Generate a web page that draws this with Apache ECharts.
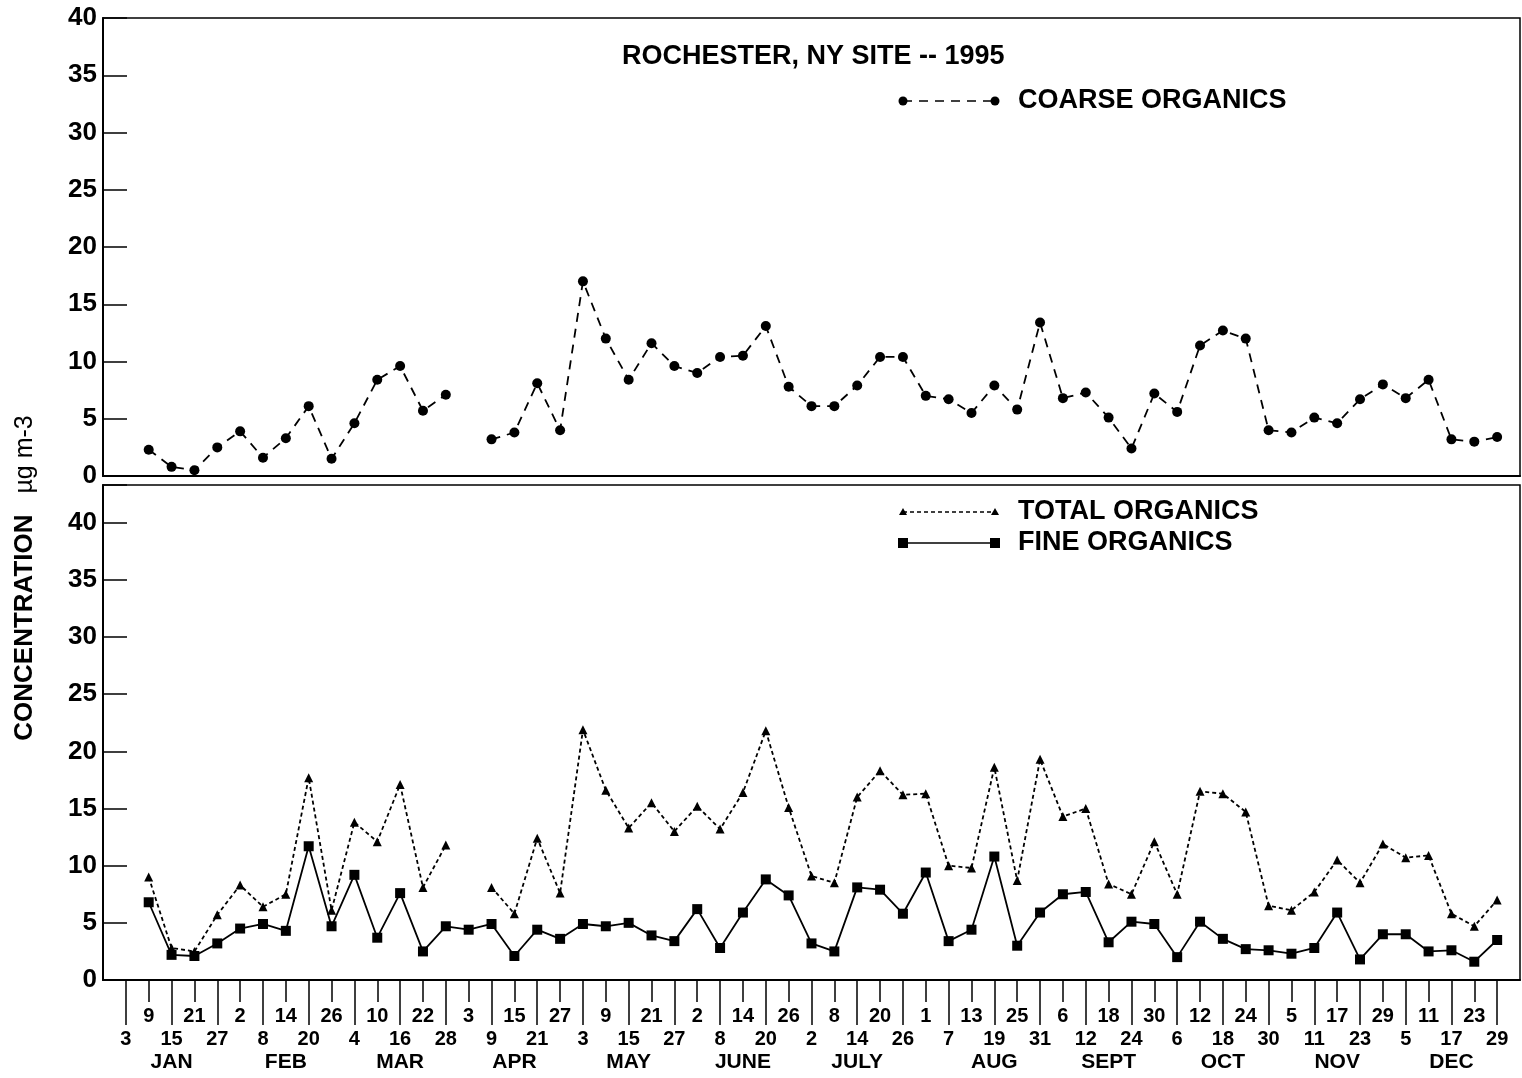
<!DOCTYPE html>
<html>
<head>
<meta charset="utf-8">
<title>Rochester, NY site -- 1995</title>
<script src="https://cdn.jsdelivr.net/npm/echarts@6.0.0/dist/echarts.min.js"></script>
<style>
  html, body { margin: 0; padding: 0; background: #fff; }
  #chart { width: 1522px; height: 1078px; }
</style>
</head>
<body>
<div id="chart"></div>
<script>
// sample dates, one every 6 days (Jan 3 .. Dec 29, 1995)
const sampleDays = [3, 9, 15, 21, 27, 2, 8, 14, 20, 26, 4, 10, 16, 22, 28, 3, 9, 15, 21, 27,
  3, 9, 15, 21, 27, 2, 8, 14, 20, 26, 2, 8, 14, 20, 26, 1, 7, 13, 19, 25, 31,
  6, 12, 18, 24, 30, 6, 12, 18, 24, 30, 5, 11, 17, 23, 29, 5, 11, 17, 23, 29];
const monthNames = ["JAN", "FEB", "MAR", "APR", "MAY", "JUNE", "JULY", "AUG", "SEPT", "OCT", "NOV", "DEC"];
const monthCounts = [5, 5, 5, 5, 5, 5, 5, 6, 5, 5, 5, 5];

// concentrations, ug m-3 (null = no sample)
const coarseOrganics = [null, 2.3, 0.8, 0.5, 2.5, 3.9, 1.6, 3.3, 6.1, 1.5, 4.6, 8.4, 9.6, 5.7, 7.1, null,
  3.2, 3.8, 8.1, 4.0, 17.0, 12.0, 8.4, 11.6, 9.6, 9.0, 10.4, 10.5, 13.1, 7.8, 6.1, 6.1, 7.9, 10.4, 10.4,
  7.0, 6.7, 5.5, 7.9, 5.8, 13.4, 6.8, 7.3, 5.1, 2.4, 7.2, 5.6, 11.4, 12.7, 12.0, 4.0, 3.8, 5.1, 4.6,
  6.7, 8.0, 6.8, 8.4, 3.2, 3.0, 3.4];
const totalOrganics = [null, 9.0, 2.8, 2.5, 5.7, 8.3, 6.4, 7.5, 17.7, 6.1, 13.8, 12.1, 17.1, 8.1, 11.8, null,
  8.1, 5.8, 12.4, 7.6, 21.9, 16.6, 13.3, 15.5, 13.0, 15.2, 13.2, 16.4, 21.8, 15.1, 9.1, 8.5, 16.0, 18.3, 16.2,
  16.3, 10.0, 9.8, 18.6, 8.7, 19.3, 14.3, 15.0, 8.4, 7.5, 12.1, 7.5, 16.5, 16.3, 14.7, 6.5, 6.1, 7.7, 10.5,
  8.5, 11.9, 10.7, 10.9, 5.8, 4.7, 7.0];
const fineOrganics = [null, 6.8, 2.2, 2.1, 3.2, 4.5, 4.9, 4.3, 11.7, 4.7, 9.2, 3.7, 7.6, 2.5, 4.7, 4.4,
  4.9, 2.1, 4.4, 3.6, 4.9, 4.7, 5.0, 3.9, 3.4, 6.2, 2.8, 5.9, 8.8, 7.4, 3.2, 2.5, 8.1, 7.9, 5.8,
  9.4, 3.4, 4.4, 10.8, 3.0, 5.9, 7.5, 7.7, 3.3, 5.1, 4.9, 2.0, 5.1, 3.6, 2.7, 2.6, 2.3, 2.8, 5.9,
  1.8, 4.0, 4.0, 2.5, 2.6, 1.6, 3.5];

const FONT = '"Liberation Sans", Arial, sans-serif';
const N = sampleDays.length;

// one empty slot on each side so the first/last sample sit inside the frame
const dayCats = [""].concat(sampleDays.map(String), [""]);
const monthCats = dayCats.map(() => "");
let start = 0;
monthCounts.forEach((c, m) => {
  monthCats[Math.ceil((start + start + c - 1) / 2) + 1] = monthNames[m];
  start += c;
});
const pad = arr => [null].concat(arr);

const isSample = i => i >= 1 && i <= N;
const evenSample = i => isSample(i) && (i - 1) % 2 === 0;
const oddSample = i => isSample(i) && (i - 1) % 2 === 1;

const black = "#000";
const tickFont = { color: black, fontFamily: FONT, fontWeight: "bold" };

function valueAxis(gridIndex, max) {
  return {
    type: "value",
    gridIndex: gridIndex,
    min: 0,
    max: max,
    interval: 5,
    axisLine: { show: true, lineStyle: { color: black, width: 2 } },
    axisTick: { show: true, inside: true, length: 24, lineStyle: { color: black, width: 1.5 } },
    splitLine: { show: false },
    axisLabel: Object.assign({ fontSize: 26, margin: 6, formatter: v => (v % 5 === 0 ? String(v) : "") }, tickFont)
  };
}

function dayAxis(showIdx, tickLen, margin) {
  return {
    type: "category",
    gridIndex: 1,
    position: "bottom",
    boundaryGap: false,
    data: dayCats,
    axisLine: { show: true, lineStyle: { color: black, width: 2 } },
    axisTick: { show: true, interval: showIdx, length: tickLen, lineStyle: { color: black, width: 1.5 } },
    axisLabel: Object.assign({ interval: showIdx, fontSize: 20, margin: margin }, tickFont),
    splitLine: { show: false }
  };
}

const chart = echarts.init(document.getElementById("chart"));

chart.setOption({
  animation: false,
  backgroundColor: "#fff",
  title: {
    text: "ROCHESTER, NY SITE -- 1995",
    left: 617,
    top: 38,
    textStyle: { fontSize: 27, fontWeight: "bold", fontFamily: FONT, color: black }
  },
  grid: [
    { left: 103, right: 2, top: 18, height: 458, show: true, borderColor: black, borderWidth: 1.5,
      containLabel: false, outerBoundsMode: "none" },
    { left: 103, right: 2, top: 485, height: 495, show: true, borderColor: black, borderWidth: 1.5,
      containLabel: false, outerBoundsMode: "none" }
  ],
  xAxis: [
    {
      type: "category",
      gridIndex: 0,
      boundaryGap: false,
      data: dayCats,
      axisLine: { show: true, lineStyle: { color: black, width: 2 } },
      axisTick: { show: false },
      axisLabel: { show: false }
    },
    dayAxis(evenSample, 45, 49),
    Object.assign(dayAxis(oddSample, 22, 26), { axisLine: { show: false } }),
    {
      type: "category",
      gridIndex: 1,
      position: "bottom",
      boundaryGap: false,
      data: monthCats,
      axisLine: { show: false },
      axisTick: { show: false },
      axisLabel: Object.assign({ interval: 0, fontSize: 21, margin: 72 }, tickFont)
    }
  ],
  yAxis: [valueAxis(0, 40), valueAxis(1, 43.3)],
  series: [
    {
      name: "COARSE ORGANICS",
      type: "line",
      xAxisIndex: 0,
      yAxisIndex: 0,
      data: pad(coarseOrganics),
      symbol: "circle",
      symbolSize: 10,
      itemStyle: { color: black },
      lineStyle: { color: black, width: 1.8, type: [9, 7] }
    },
    {
      name: "TOTAL ORGANICS",
      type: "line",
      xAxisIndex: 1,
      yAxisIndex: 1,
      data: pad(totalOrganics),
      symbol: "triangle",
      symbolSize: 9,
      itemStyle: { color: black },
      lineStyle: { color: black, width: 1.8, type: [4, 3] }
    },
    {
      name: "FINE ORGANICS",
      type: "line",
      xAxisIndex: 1,
      yAxisIndex: 1,
      data: pad(fineOrganics),
      symbol: "rect",
      symbolSize: 10,
      itemStyle: { color: black },
      lineStyle: { color: black, width: 1.8 }
    }
  ],
  // legend keys drawn by hand: the original has a marker at both ends of each key
  graphic: [
    { type: "line", shape: { x1: 903, y1: 101, x2: 995, y2: 101 }, style: { stroke: black, lineWidth: 1.5, lineDash: [9, 7] } },
    { type: "circle", shape: { cx: 903, cy: 101, r: 4.5 }, style: { fill: black } },
    { type: "circle", shape: { cx: 995, cy: 101, r: 4.5 }, style: { fill: black } },
    { type: "text", x: 1018, y: 101, style: { text: "COARSE ORGANICS", font: "bold 27px " + FONT, fill: black, verticalAlign: "middle" } },

    { type: "line", shape: { x1: 903, y1: 512, x2: 995, y2: 512 }, style: { stroke: black, lineWidth: 1.5, lineDash: [4, 3] } },
    { type: "polygon", shape: { points: [[903, 508], [907, 515], [899, 515]] }, style: { fill: black } },
    { type: "polygon", shape: { points: [[995, 508], [999, 515], [991, 515]] }, style: { fill: black } },
    { type: "text", x: 1018, y: 512, style: { text: "TOTAL ORGANICS", font: "bold 27px " + FONT, fill: black, verticalAlign: "middle" } },

    { type: "line", shape: { x1: 903, y1: 543, x2: 995, y2: 543 }, style: { stroke: black, lineWidth: 1.5 } },
    { type: "rect", shape: { x: 898, y: 538, width: 10, height: 10 }, style: { fill: black } },
    { type: "rect", shape: { x: 990, y: 538, width: 10, height: 10 }, style: { fill: black } },
    { type: "text", x: 1018, y: 543, style: { text: "FINE ORGANICS", font: "bold 27px " + FONT, fill: black, verticalAlign: "middle" } },

    {
      type: "text",
      x: 25,
      y: 578,
      rotation: Math.PI / 2,
      style: {
        text: "{a|CONCENTRATION}{b|   \u00b5g m-3}",
        align: "center",
        verticalAlign: "middle",
        fill: black,
        rich: {
          a: { fontSize: 26, fontWeight: "bold", fontFamily: FONT, fill: black },
          b: { fontSize: 25, fontFamily: FONT, fill: black }
        }
      }
    }
  ]
});
</script>
</body>
</html>
